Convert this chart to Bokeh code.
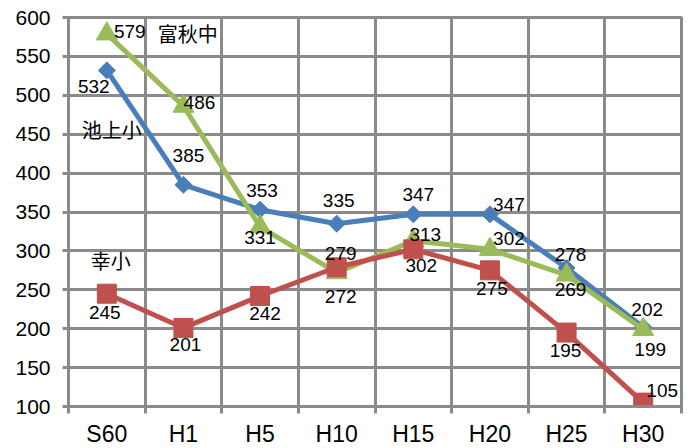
from bokeh.plotting import figure
from bokeh.models import Range1d, FixedTicker, ColumnDataSource
from bokeh.core.properties import value
from bokeh.embed import file_html
from bokeh.resources import INLINE
import math

categories = ["S60", "H1", "H5", "H10", "H15", "H20", "H25", "H30"]
ikegami = [532, 385, 353, 335, 347, 347, 278, 202]
tomiaki = [579, 486, 331, 272, 313, 302, 269, 199]
saiwai = [245, 201, 242, 279, 302, 275, 195, 105]
series_names = ["池上小", "富秋中", "幸小"]
y_ticks = list(range(100, 601, 50))

# label offsets in screen pixels (style only)
off_blue = [(-13, 16), (5, -29), (2, -19), (2, -23), (5, -20), (19, -10), (4, -14), (4, -18)]
off_green = [(23, -2), (16, -4), (0, 11), (4, 24), (12, -6), (19, -11), (4, 14), (7, 20)]
off_red = [(-2, 19), (2, 17), (5, 17), (4, -14), (8, 16), (2, 18), (-1, 18), (19, -12)]
name_offsets = [(5, 59), (81, 0), (4, -33)]

GRID = "#8a8a8a"
BLUE = "#4a7ebb"
GREEN = "#9bbb59"
RED = "#c0504d"
FONT = "Liberation Sans"

xs = [i + 0.5 for i in range(len(categories))]

p = figure(frame_width=613, frame_height=389, output_backend="svg", toolbar_location=None,
           x_range=Range1d(0, len(categories)), y_range=Range1d(100, 600),
           min_border_left=68, min_border_right=7, min_border_top=17, min_border_bottom=41)
p.background_fill_color = "white"
p.border_fill_color = "white"
p.outline_line_color = GRID
p.outline_line_width = 3

# x axis
p.xaxis.ticker = FixedTicker(ticks=xs, minor_ticks=list(range(0, len(categories) + 1)))
p.xaxis.major_label_overrides = {x: c for x, c in zip(xs, categories)}
p.xaxis.major_tick_out = 0
p.xaxis.major_tick_in = 0
p.xaxis.minor_tick_out = 7
p.xaxis.minor_tick_in = 0
p.xaxis.minor_tick_line_color = GRID
p.xaxis.minor_tick_line_width = 3
p.xaxis.axis_line_color = GRID
p.xaxis.axis_line_width = 3
p.xaxis.major_label_text_font = FONT
p.xaxis.major_label_text_font_size = "23px"
p.xaxis.major_label_text_color = "black"
p.xaxis.major_label_standoff = 7

# y axis
p.yaxis.ticker = FixedTicker(ticks=y_ticks)
p.yaxis.major_tick_out = 6
p.yaxis.major_tick_in = 0
p.yaxis.minor_tick_out = 0
p.yaxis.minor_tick_in = 0
p.yaxis.major_tick_line_color = GRID
p.yaxis.major_tick_line_width = 3
p.yaxis.axis_line_color = GRID
p.yaxis.axis_line_width = 3
p.yaxis.major_label_text_font = FONT
p.yaxis.major_label_text_font_size = "21px"
p.yaxis.major_label_text_color = "black"
p.yaxis.major_label_standoff = 12

p.xgrid.ticker = FixedTicker(ticks=list(range(0, len(categories) + 1)))
p.xgrid.grid_line_color = GRID
p.xgrid.grid_line_width = 3
p.ygrid.grid_line_color = GRID
p.ygrid.grid_line_width = 3

series = [
    (ikegami, BLUE, "square", 12, math.pi / 4, off_blue),
    (tomiaki, GREEN, "triangle", 21, 0, off_green),
    (saiwai, RED, "square", 19, 0, off_red),
]

for (vals, color, marker, size, angle, offs) in series:
    p.line(xs, vals, line_color=color, line_width=5)
    p.scatter(xs, vals, marker=marker, size=size, angle=angle, fill_color=color, line_color=color)

for (vals, color, marker, size, angle, offs), name, noff in zip(series, series_names, name_offsets):
    src = ColumnDataSource(dict(x=xs, y=vals, t=[str(v) for v in vals],
                                dx=[o[0] for o in offs], dy=[o[1] for o in offs]))
    p.text(x="x", y="y", text="t", x_offset="dx", y_offset="dy", source=src,
           text_font=value(FONT), text_font_size="19px", text_color="black",
           text_align="center", text_baseline="middle")
    p.text(x=[xs[0]], y=[vals[0]], text=[name], x_offset=noff[0], y_offset=noff[1],
           text_font=value("Noto Sans CJK JP"), text_font_size="20px", text_color="black",
           text_align="center", text_baseline="middle")

open("out.html", "w").write(file_html(p, INLINE))
